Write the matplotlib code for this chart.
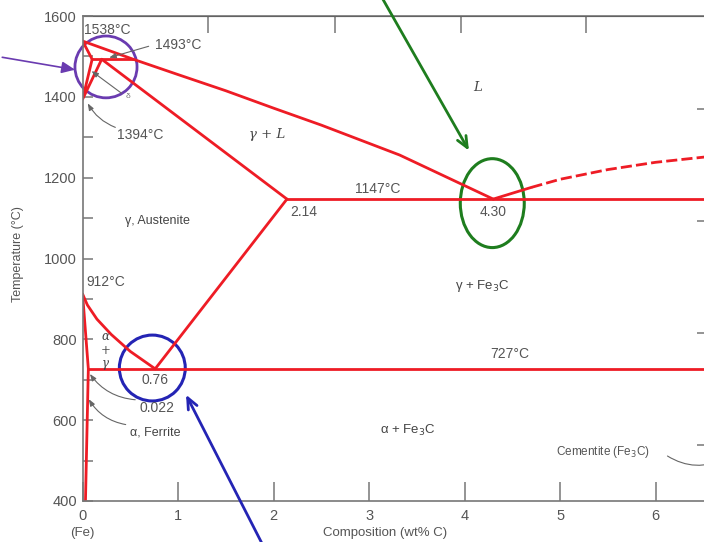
import matplotlib
matplotlib.use("Agg")
import matplotlib.pyplot as plt
from matplotlib.patches import Ellipse

plt.rcParams["font.family"] = ["Liberation Sans", "DejaVu Sans"]

# phase boundaries (wt% C, deg C)
liquidus_wt = [0, 0.53, 1.0, 1.5, 2.0, 2.5, 3.32, 4.30]
liquidus_t = [1538, 1493, 1455, 1415, 1372, 1330, 1256, 1147]
hyper_solid_wt = [4.30, 4.70]
hyper_solid_t = [1147, 1176]
hyper_dash_wt = [4.70, 5.0, 5.5, 6.0, 6.55]
hyper_dash_t = [1176, 1196, 1220, 1238, 1252]
delta_sol_wt = [0, 0.10]
delta_sol_t = [1538, 1493]
peritectic_wt = [0.10, 0.53]
peritectic_t = [1493, 1493]
delta_gam_wt = [0.10, 0, 0.20]
delta_gam_t = [1493, 1394, 1493]
gamma_sol_wt = [0.20, 2.14]
gamma_sol_t = [1493, 1147]
eutectic_wt = [2.14, 6.7]
eutectic_t = [1147, 1147]
acm_wt = [2.14, 0.76]
acm_t = [1147, 727]
a3_wt = [0, 0.05, 0.15, 0.30, 0.50, 0.76]
a3_t = [912, 885, 850, 812, 770, 727]
alpha_wt = [0, 0.06, 0.03]
alpha_t = [912, 727, 400]
eutectoid_wt = [0.06, 6.7]
eutectoid_t = [727, 727]

top_ticks = [1.31, 2.64, 3.96, 5.27]
f_ticks = [1000, 1500, 2000, 2500]

RED = "#ee1c25"
GREY = "#555555"

fig = plt.figure(figsize=(7.04, 5.42), dpi=100)
ax = fig.add_axes([82.6 / 704, 41 / 542, 625.5 / 704, 485 / 542])
ax.set_xlim(0, 6.55)
ax.set_ylim(400, 1600)

lines = [(liquidus_wt, liquidus_t), (hyper_solid_wt, hyper_solid_t),
         (delta_sol_wt, delta_sol_t), (peritectic_wt, peritectic_t),
         (delta_gam_wt, delta_gam_t), (gamma_sol_wt, gamma_sol_t),
         (eutectic_wt, eutectic_t), (acm_wt, acm_t), (a3_wt, a3_t),
         (alpha_wt, alpha_t), (eutectoid_wt, eutectoid_t)]
for xs, ys in lines:
    ax.plot(xs, ys, color=RED, lw=2, solid_capstyle="round",
            solid_joinstyle="round")
ax.plot(hyper_dash_wt, hyper_dash_t, color=RED, lw=2, ls=(0, (4, 1.5)))

for s in ax.spines.values():
    s.set_color("#777777")
    s.set_linewidth(1.2)

ax.set_xticks(range(0, 7))
ax.set_yticks(range(400, 1601, 200))
ax.set_yticks(range(500, 1600, 200), minor=True)
ax.tick_params(axis="x", direction="in", length=14, width=1.1, color="#777777",
               labelsize=10.5, labelcolor="#555555", pad=6)
ax.tick_params(axis="y", which="both", direction="in", length=7, width=1.1,
               color="#777777", labelsize=10.5, labelcolor="#555555", pad=4)

top = ax.secondary_xaxis("top")
top.set_xticks(top_ticks)
top.tick_params(direction="in", length=12, width=1.1, color="#777777",
                labeltop=False)
right = ax.secondary_yaxis("right", functions=(lambda c: c * 9 / 5 + 32,
                                               lambda f: (f - 32) * 5 / 9))
right.set_yticks(f_ticks)
right.tick_params(direction="in", length=8, width=1.1, color="#777777",
                  labelright=False)

ax.set_ylabel("Temperature (°C)", fontsize=9, color="#555555")
ax.yaxis.set_label_coords(-(82.6 - 24) / 625.5, 0.51)
fig.text(385 / 704, 1 - 533 / 542, "Composition (wt% C)", fontsize=9.5,
         color="#555555", ha="center", va="center")
fig.text(82 / 704, 1 - 533 / 542, "(Fe)", fontsize=9.5, color="#555555",
         ha="center", va="center")

# labels
tk = dict(color=GREY, fontsize=10, va="center")
ax.text(0.015, 1565, "1538°C", **tk)
ax.text(0.76, 1528, "1493°C", **tk)
ax.text(0.36, 1305, "1394°C", **tk)
ax.text(0.035, 942, "912°C", **tk)
ax.text(0.76, 699, "0.76", ha="center", color=GREY, fontsize=10, va="center")
ax.text(0.60, 630, "0.022", **tk)
ax.text(2.17, 1115, "2.14", **tk)
ax.text(2.85, 1172, "1147°C", **tk)
ax.text(4.16, 1115, "4.30", **tk)
ax.text(4.27, 763, "727°C", **tk)
ax.text(4.96, 521, "Cementite (Fe$_3$C)", color=GREY, fontsize=8.5,
        va="center")

sk = dict(color="#444444", fontsize=9.5, va="center", family="DejaVu Serif")
ax.text(0.24, 773, "α\n+\nγ", ha="center", linespacing=1.05,
        color="#444444", fontsize=8.5, va="center", family="DejaVu Serif",
        style="italic")
ax.text(0.50, 570, "α, Ferrite", color="#444444", fontsize=9, va="center")
ax.text(0.44, 1093, "γ, Austenite", color="#444444", fontsize=9, va="center")
ax.text(1.74, 1308, "γ + L", style="italic", **sk)
ax.text(4.09, 1422, "L", style="italic", **sk)
ax.text(3.90, 932, "γ + Fe$_3$C", color="#444444", fontsize=9.5, va="center")
ax.text(3.11, 575, "α + Fe$_3$C", color="#444444", fontsize=9.5, va="center")
ax.text(0.45, 1400, "δ", color="#777777", fontsize=6, va="center")

ap = dict(arrowstyle="-|>,head_length=0.4,head_width=0.15", color="#666666",
          lw=0.8)
ax.annotate("", xy=(0.25, 1495), xytext=(0.72, 1527), arrowprops=ap)
ax.annotate("", xy=(0.07, 1468), xytext=(0.43, 1405), arrowprops=ap)
ax.annotate("", xy=(0.04, 1390), xytext=(0.37, 1322),
            arrowprops=dict(ap, connectionstyle="arc3,rad=-0.2"))
ax.annotate("", xy=(0.06, 720), xytext=(0.58, 650),
            arrowprops=dict(ap, connectionstyle="arc3,rad=-0.25"))
ax.annotate("", xy=(0.05, 658), xytext=(0.48, 588),
            arrowprops=dict(ap, connectionstyle="arc3,rad=-0.25"))
ax.annotate("", xy=(6.75, 508), xytext=(6.10, 515), annotation_clip=False,
            arrowprops=dict(arrowstyle="-", color="#666666", lw=0.8,
                            connectionstyle="arc3,rad=0.3"))

# highlight circles and arrows
ax.add_patch(Ellipse((0.245, 1474), 0.65, 153, fill=False, ec="#6a3bb0",
                     lw=2, clip_on=False))
ax.add_patch(Ellipse((4.29, 1137), 0.67, 220, fill=False, ec="#1e7d1e",
                     lw=2.2, clip_on=False))
ax.add_patch(Ellipse((0.73, 729), 0.69, 163, fill=False, ec="#2424b4",
                     lw=2.2, clip_on=False))
ax.annotate("", xy=(-0.05, 1466), xytext=(-0.87, 1499), annotation_clip=False,
            arrowprops=dict(arrowstyle="-|>,head_length=0.8,head_width=0.35",
                            color="#6a3bb0", lw=1.2))
ax.annotate("", xy=(4.06, 1261), xytext=(3.10, 1660), annotation_clip=False,
            arrowprops=dict(arrowstyle="->,head_length=0.8,head_width=0.35",
                            color="#1e7d1e", lw=2))
ax.annotate("", xy=(1.07, 669), xytext=(1.90, 285), annotation_clip=False,
            arrowprops=dict(arrowstyle="->,head_length=0.8,head_width=0.35",
                            color="#2424b4", lw=2))

fig.savefig("out.png", dpi=100)
